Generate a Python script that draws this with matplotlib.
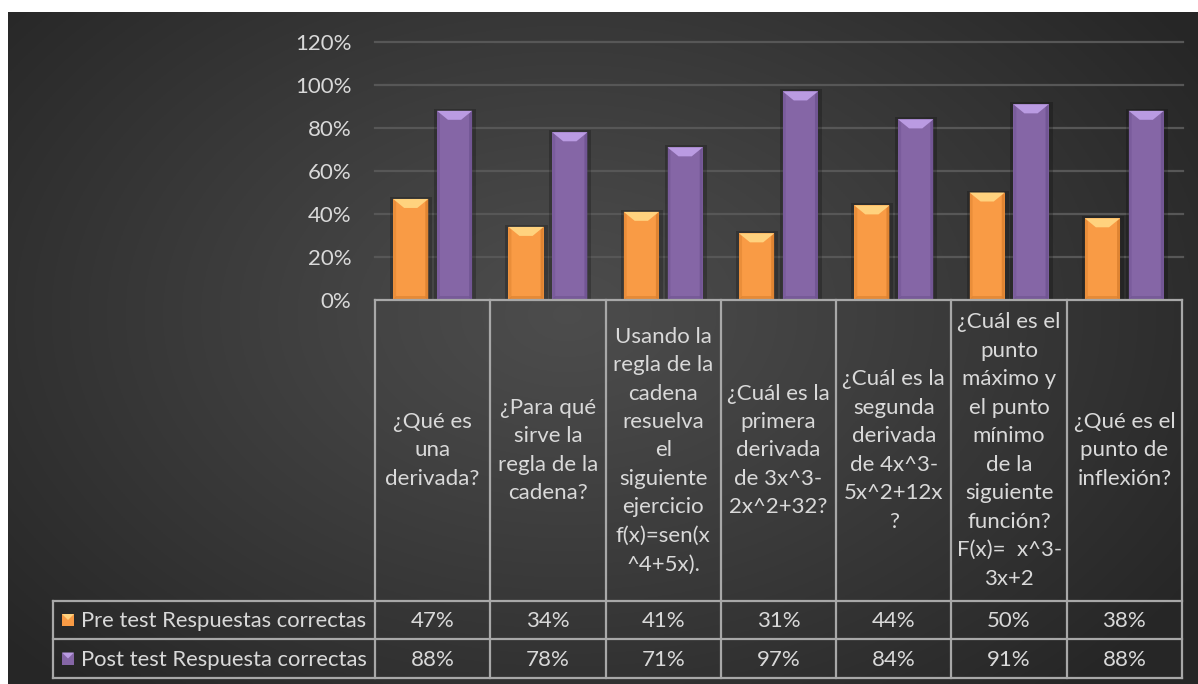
import numpy as np
import matplotlib
matplotlib.use("Agg")
import matplotlib.pyplot as plt
from matplotlib.patches import Polygon, Rectangle
from matplotlib.transforms import IdentityTransform

plt.rcParams['font.family'] = ['Lato', 'DejaVu Sans']

# ---------------- data ----------------
categories = [
    "¿Qué es\nuna\nderivada?",
    "¿Para qué\nsirve la\nregla de la\ncadena?",
    "Usando la\nregla de la\ncadena\nresuelva\nel\nsiguiente\nejercicio\nf(x)=sen(x\n^4+5x).",
    "¿Cuál es la\nprimera\nderivada\nde 3x^3-\n2x^2+32?",
    "¿Cuál es la\nsegunda\nderivada\nde 4x^3-\n5x^2+12x\n?",
    "¿Cuál es el\npunto\nmáximo y\nel punto\nmínimo\nde la\nsiguiente\nfunción?\nF(x)=  x^3-\n3x+2",
    "¿Qué es el\npunto de\ninflexión?",
]
series_names = ["Pre test Respuestas correctas", "Post test Respuesta correctas"]
pre_values = [0.47, 0.34, 0.41, 0.31, 0.44, 0.50, 0.38]
post_values = [0.88, 0.78, 0.71, 0.97, 0.84, 0.91, 0.88]
y_ticks = [0, 0.2, 0.4, 0.6, 0.8, 1.0, 1.2]
y_tick_labels = ["0%", "20%", "40%", "60%", "80%", "100%", "120%"]

# ---------------- style ----------------
W, H = 1198, 684
TXT = "#d9d9d9"
GRID = "#575757"
TLINE = "#a8a8a8"
FS = 16
series_colors = ["#F99B45", "#8566A6"]
bevel_light = ["#FFD27E", "#BA9BE2"]
bevel_dark = ["#D97F2E", "#6E5290"]

fig = plt.figure(figsize=(W / 100, H / 100), dpi=100, facecolor="white")

# background radial gradient
bg = fig.add_axes([8 / W, 0, (W - 8) / W, (H - 12) / H])
bg.set_axis_off()
gx = np.linspace(0, 1, 600)
gy = np.linspace(0, 1, 340)
GX, GY = np.meshgrid(gx, gy)
cx, cy = 0.47, 0.55
r = np.sqrt(((GX - cx) / 0.62) ** 2 + ((GY - cy) / 0.75) ** 2)
r = np.clip(r, 0, 1)
val = 0.30 - (0.30 - 0.152) * r ** 1.1
img = np.dstack([val, val, val])
bg.imshow(img, extent=[0, 1, 0, 1], aspect="auto", origin="lower")
bg.set_xlim(0, 1)
bg.set_ylim(0, 1)

# main chart axes
x0_px, x1_px = 375, 1182
ytop_px, y0_px = 42, 300
ax = fig.add_axes([x0_px / W, (H - y0_px) / H, (x1_px - x0_px) / W, (y0_px - ytop_px) / H])
ax.set_facecolor("none")
n = len(categories)
x = np.arange(n)
ax.set_xlim(-0.5, n - 0.5)
ax.set_ylim(0, 1.2)
for s in ax.spines.values():
    s.set_visible(False)
ax.set_xticks([])
ax.set_yticks(y_ticks)
ax.set_yticklabels(y_tick_labels, color=TXT, fontsize=FS)
ax.tick_params(axis="y", length=0, pad=17)
for t in y_ticks[1:]:
    ax.plot([-0.5, n - 0.5 + 0.01], [t, t], color=GRID, lw=1.6, zorder=1, clip_on=False)

off, bw = 0.19, 0.305
bars_pre = ax.bar(x - off, pre_values, bw, color=series_colors[0], zorder=3)
bars_post = ax.bar(x + off, post_values, bw, color=series_colors[1], zorder=3)

fig.canvas.draw()
ident = IdentityTransform()
for k, bars in enumerate([bars_pre, bars_post]):
    for p in bars:
        bb = p.get_window_extent()
        L, R, B, T = bb.x0, bb.x1, bb.y0, bb.y1
        # shadow
        ax.add_patch(Rectangle((L - 3, B), (R - L) + 7, (T - B) + 2, transform=ident,
                               facecolor="black", alpha=0.22, zorder=2, lw=0))
        b, d, s = 11, 9, 3
        ax.add_patch(Polygon([(L, T), (R, T), (R - b, T - d), (L + b, T - d)], closed=True,
                             transform=ident, facecolor=bevel_light[k], lw=0, zorder=4))
        ax.add_patch(Polygon([(L, T), (L + s, T - s), (L + s, B + 2), (L, B)], closed=True,
                             transform=ident, facecolor=bevel_dark[k], alpha=0.45, lw=0, zorder=4))
        ax.add_patch(Polygon([(R, T), (R - s, T - s), (R - s, B + 2), (R, B)], closed=True,
                             transform=ident, facecolor=bevel_dark[k], alpha=0.8, lw=0, zorder=4))
        ax.add_patch(Polygon([(L, B), (R, B), (R - s, B + 4), (L + s, B + 4)], closed=True,
                             transform=ident, facecolor=bevel_dark[k], alpha=0.6, lw=0, zorder=4))

# ---------------- data table ----------------
tl_px, tb_px = 53, 678
unit = (x1_px - x0_px) / n
left_u = -0.5 - (x0_px - tl_px) / unit
tab = fig.add_axes([tl_px / W, (H - tb_px) / H, (x1_px - tl_px) / W, (tb_px - y0_px) / H])
tab.set_axis_off()
tab.set_xlim(left_u, n - 0.5)
th = tb_px - y0_px
tab.set_ylim(th, 0)
hdr_b = 601 - y0_px
row_b = [639 - y0_px, th]

lw = 1.6
for i in range(n + 1):
    tab.plot([i - 0.5, i - 0.5], [0, th], color=TLINE, lw=lw, clip_on=False)
tab.plot([-0.5, n - 0.5], [0, 0], color=TLINE, lw=lw, clip_on=False)
tab.plot([left_u, left_u], [hdr_b, th], color=TLINE, lw=lw, clip_on=False)
for yy in [hdr_b] + row_b:
    tab.plot([left_u, n - 0.5], [yy, yy], color=TLINE, lw=lw, clip_on=False)

for i, lab in enumerate(categories):
    tab.text(i, hdr_b / 2, lab, ha="center", va="center", color=TXT, fontsize=FS,
             linespacing=1.53, multialignment="center")

rows_top = [hdr_b, row_b[0]]
rows_bot = row_b
for j, (vals, name) in enumerate(zip([pre_values, post_values], series_names)):
    yc = (rows_top[j] + rows_bot[j]) / 2
    for i, v in enumerate(vals):
        tab.text(i, yc + 1, f"{round(v * 100):d}%", ha="center", va="center",
                 color=TXT, fontsize=FS)
    # legend key
    mx = left_u + (62 - tl_px) / unit
    mw = 12 / unit
    tab.add_patch(Rectangle((mx, yc - 6), mw, 12, facecolor=series_colors[j], lw=0, zorder=3))
    tab.add_patch(Polygon([(mx, yc - 6), (mx + mw, yc - 6), (mx + mw / 2, yc)], closed=True,
                          facecolor=bevel_light[j], lw=0, zorder=4))
    tab.text(left_u + (81 - tl_px) / unit, yc + 1, name, ha="left", va="center",
             color=TXT, fontsize=15.8)

fig.savefig("out.png", dpi=100, facecolor="white")
